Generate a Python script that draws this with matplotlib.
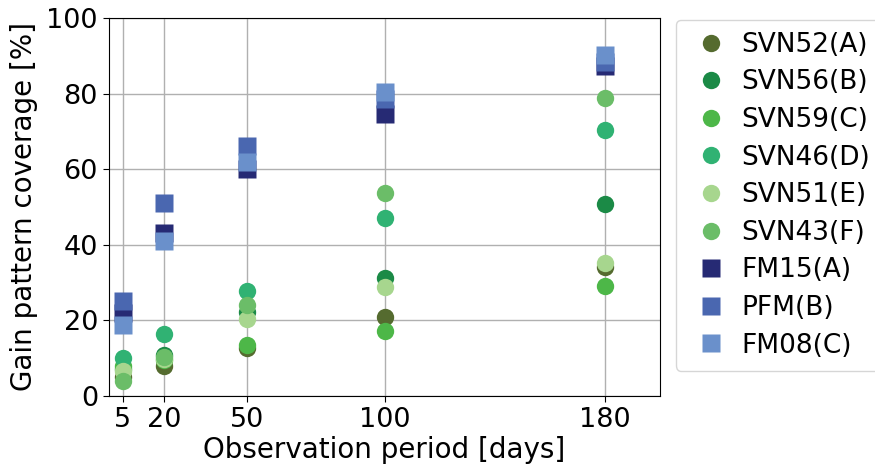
"""
Gain pattern coverage against observation period for GPS satellites and stations
"""

import matplotlib
matplotlib.use("Agg")
import matplotlib.pyplot as plt

periods = [5, 20, 50, 100, 180]

sat_names = ["SVN52(A)", "SVN56(B)", "SVN59(C)", "SVN46(D)", "SVN51(E)", "SVN43(F)"]
sat_colors = ["#556b2f", "#1b8a46", "#4db748", "#30b273", "#a7d68e", "#6bbd68"]
svn52 = [5.0, 7.8, 12.6, 20.8, 34.0]
svn56 = [7.0, 10.8, 22.3, 31.3, 50.8]
svn59 = [8.0, 9.5, 13.6, 17.3, 29.1]
svn46 = [10.0, 16.4, 27.7, 47.2, 70.4]
svn51 = [6.6, 9.8, 20.4, 28.7, 35.1]
svn43 = [4.0, 10.2, 24.1, 53.7, 78.7]
sat_values = [svn52, svn56, svn59, svn46, svn51, svn43]

rx_names = ["FM15(A)", "PFM(B)", "FM08(C)"]
rx_colors = ["#262a74", "#4a67b0", "#6a90cb"]
fm15 = [22.0, 43.2, 60.0, 74.5, 87.2]
pfm = [25.0, 51.0, 66.0, 78.6, 88.4]
fm08 = [18.7, 41.0, 62.0, 80.5, 90.3]
rx_values = [fm15, pfm, fm08]


def main():
    plt.rcParams["font.size"] = 20
    fig = plt.figure(figsize=(8.75, 4.73), dpi=100)
    ax = fig.add_axes([0.1246, 0.163, 0.6297, 0.799])

    for name, color, vals in zip(sat_names, sat_colors, sat_values):
        ax.plot(periods, vals, "o", ms=12.5, color=color, mec="none",
                label=name, zorder=3)
    for name, color, vals in zip(rx_names, rx_colors, rx_values):
        ax.plot(periods, vals, "s", ms=12.5, color=color, mec="none",
                label=name, zorder=3)

    ax.set_xlim(0, 200)
    ax.set_ylim(0, 100)
    ax.set_xticks(periods)
    ax.set_yticks([0, 20, 40, 60, 80, 100])
    ax.tick_params(labelsize=19.5, length=4.5)
    ax.grid(True, color="#b0b0b0", lw=1)
    ax.set_axisbelow(True)
    ax.set_xlabel("Observation period [days]", labelpad=2)
    ax.set_ylabel("Gain pattern coverage [%]", labelpad=6)

    ax.legend(loc="upper left", bbox_to_anchor=(1.029, 0.995), borderaxespad=0,
              fontsize=19, handlelength=1.75, handletextpad=0.27,
              labelspacing=0.44, borderpad=0.45)

    fig.savefig("out.png", dpi=100)


if __name__ == "__main__":
    main()
